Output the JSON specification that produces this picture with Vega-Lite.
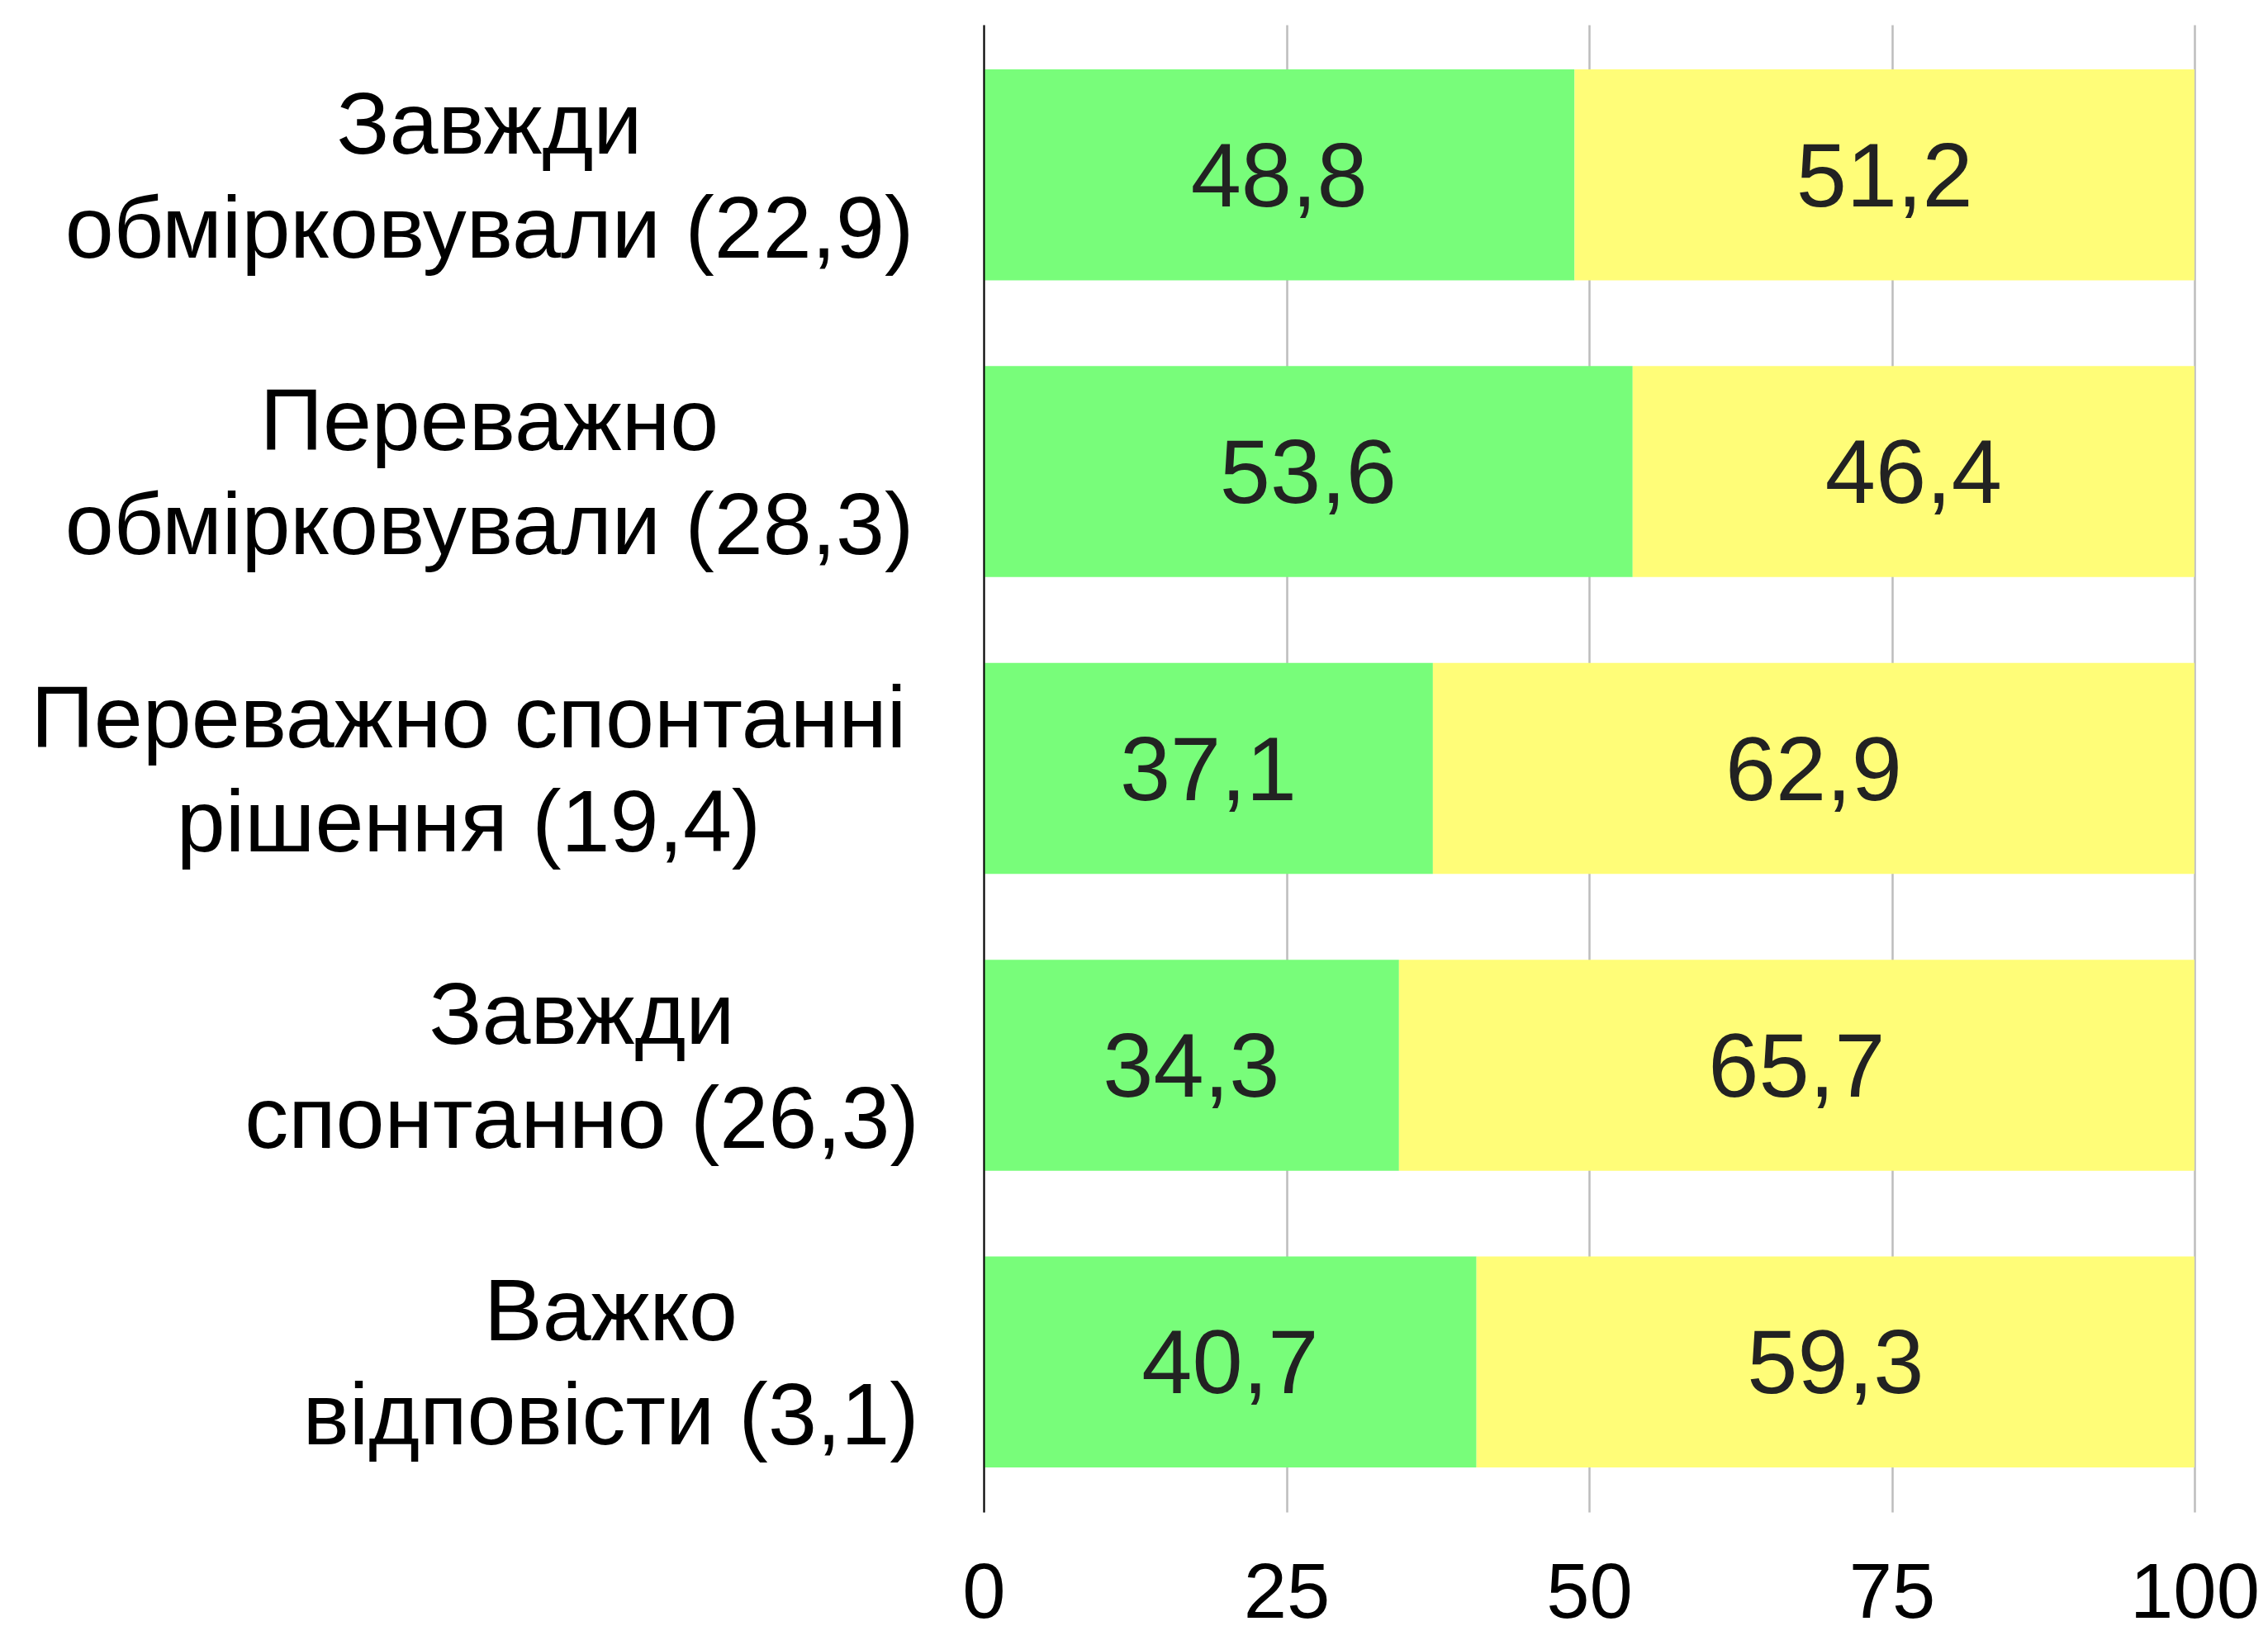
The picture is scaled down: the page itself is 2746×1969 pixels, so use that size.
{
  "$schema": "https://vega.github.io/schema/vega-lite/v6.json",
  "width": 1466,
  "height": 1801,
  "autosize": {"type": "none"},
  "padding": {"left": 1191, "top": 30, "right": 89, "bottom": 138},
  "background": "white",
  "config": {
    "locale": {"number": {"decimal": ",", "thousands": " ", "grouping": [3], "currency": ["", ""]}},
    "view": {"stroke": null},
    "font": "Liberation Sans"
  },
  "data": {
    "values": [
      {"category": "Завжди\nобмірковували (22,9)", "series": "1", "value": 48.8},
      {"category": "Завжди\nобмірковували (22,9)", "series": "2", "value": 51.2},
      {"category": "Переважно\nобмірковували (28,3)", "series": "1", "value": 53.6},
      {"category": "Переважно\nобмірковували (28,3)", "series": "2", "value": 46.4},
      {"category": "Переважно спонтанні\nрішення (19,4)", "series": "1", "value": 37.1},
      {"category": "Переважно спонтанні\nрішення (19,4)", "series": "2", "value": 62.9},
      {"category": "Завжди\nспонтанно (26,3)", "series": "1", "value": 34.3},
      {"category": "Завжди\nспонтанно (26,3)", "series": "2", "value": 65.7},
      {"category": "Важко\nвідповісти (3,1)", "series": "1", "value": 40.7},
      {"category": "Важко\nвідповісти (3,1)", "series": "2", "value": 59.3}
    ]
  },
  "transform": [
    {"stack": "value", "groupby": ["category"], "sort": [{"field": "series", "order": "ascending"}], "as": ["v0", "v1"]},
    {"calculate": "(datum.v0 + datum.v1) / 2", "as": "mid"}
  ],
  "encoding": {
    "y": {
      "field": "category",
      "type": "nominal",
      "sort": null,
      "scale": {"paddingInner": 0.289, "paddingOuter": 0.15},
      "axis": {
        "title": null,
        "domain": true,
        "domainColor": "#000000",
        "domainWidth": 2,
        "ticks": false,
        "grid": false,
        "zindex": 1,
        "labelExpr": "split(datum.label, '\\n')",
        "labelFont": "Liberation Sans",
        "labelFontSize": 106,
        "labelLineHeight": 126,
        "labelColor": "#000000",
        "labelAlign": "center",
        "labelBaseline": "middle",
        "labelOffset": -58,
        "labelLimit": 3000,
        "labelPadding": {
          "condition": [
            {"test": "datum.value === 'Переважно спонтанні\\nрішення (19,4)'", "value": 624},
            {"test": "datum.value === 'Завжди\\nспонтанно (26,3)'", "value": 487},
            {"test": "datum.value === 'Важко\\nвідповісти (3,1)'", "value": 452}
          ],
          "value": 599
        }
      }
    }
  },
  "layer": [
    {
      "mark": {"type": "bar"},
      "encoding": {
        "x": {
          "field": "v0",
          "type": "quantitative",
          "scale": {"domain": [0, 100], "nice": false},
          "axis": {
            "title": null,
            "orient": "bottom",
            "values": [0, 25, 50, 75, 100],
            "domain": false,
            "ticks": false,
            "grid": true,
            "gridColor": "#bdbdbd",
            "gridWidth": 2.5,
            "labelFont": "Liberation Sans",
            "labelFontSize": 94,
            "labelColor": "#000000",
            "labelPadding": 53,
            "labelFlush": false
          }
        },
        "x2": {"field": "v1"},
        "color": {
          "field": "series",
          "type": "nominal",
          "scale": {"domain": ["1", "2"], "range": ["#78FD7A", "#FFFD78"]},
          "legend": null
        }
      }
    },
    {
      "mark": {"type": "text", "fontSize": 110, "color": "#222222", "baseline": "middle", "align": "center", "dy": 5, "font": "Liberation Sans"},
      "encoding": {
        "x": {"field": "mid", "type": "quantitative"},
        "text": {"field": "value", "type": "quantitative", "format": ".1f"}
      }
    }
  ]
}
